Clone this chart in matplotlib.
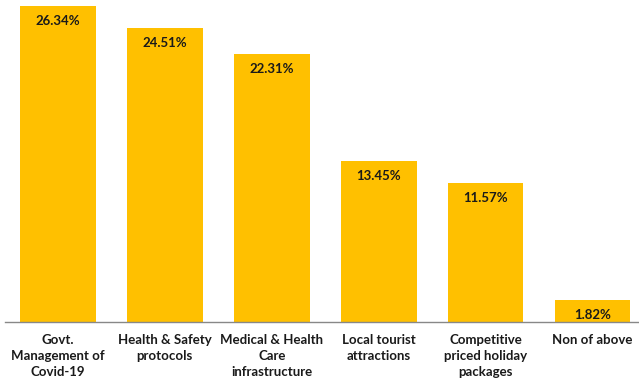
import matplotlib
matplotlib.use('Agg')
import matplotlib.pyplot as plt

categories = ['Govt.\nManagement of\nCovid-19', 'Health & Safety\nprotocols',
              'Medical & Health\nCare\ninfrastructure', 'Local tourist\nattractions',
              'Competitive\npriced holiday\npackages', 'Non of above']
values = [26.34, 24.51, 22.31, 13.45, 11.57, 1.82]

plt.rcParams['font.family'] = ['Lato', 'DejaVu Sans']

fig = plt.figure(figsize=(6.39, 3.83), dpi=100)
ax = fig.add_axes([4.5/639, 61/383, 641.4/639, 322/383])

x = range(len(values))
bars = ax.bar(x, values, width=0.71, color='#FFC000')
ax.set_xlim(-0.5, len(values) - 0.5)
ax.set_ylim(0, 26.83)

for xi, v in zip(x, values):
    ax.text(xi, v - 0.75, f'{v:.2f}%', ha='center', va='top',
            fontsize=9.5, fontweight='bold', color='#1a1a1a')

ax.set_xticks(list(x))
ax.set_xticklabels(categories, fontsize=9.5, fontweight='bold', color='#1a1a1a',
                   linespacing=1.35)
ax.tick_params(axis='x', length=0, pad=9)
ax.set_yticks([])
for s in ['top', 'left', 'right']:
    ax.spines[s].set_visible(False)
ax.spines['bottom'].set_color('#888888')
ax.spines['bottom'].set_linewidth(1)

fig.savefig('out.png', dpi=100)
